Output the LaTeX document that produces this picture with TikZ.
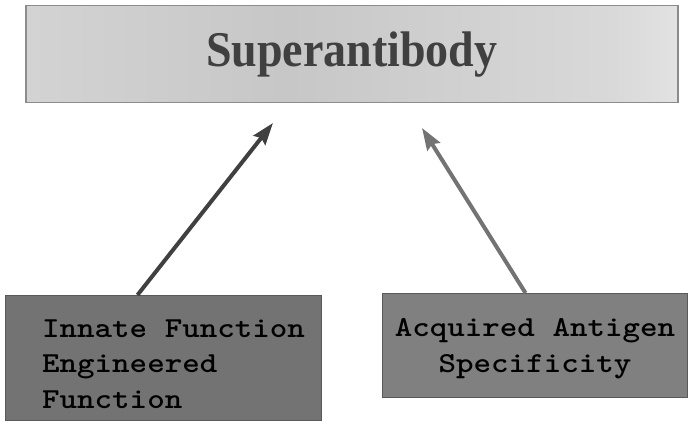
\documentclass[tikz,border=0pt]{standalone}
\usepackage{fontspec}
\setmainfont{Liberation Serif}
\newfontfamily\typefont[FakeStretch=1.15]{lmmonolt10-bold.otf}
\usetikzlibrary{arrows.meta}

\pgfdeclarehorizontalshading{silver}{100bp}{%
  color(0bp)=(black!24); color(20bp)=(black!16); color(45bp)=(black!22);
  color(70bp)=(black!15); color(85bp)=(black!4); color(100bp)=(black!22)}

\tikzset{
  titlebox/.style={draw=black!45, line width=1.5pt, shading=silver,
    minimum width=652pt, minimum height=97pt, anchor=north west,
    inner sep=0pt, text=black!75,
    font=\fontsize{50}{60}\selectfont\bfseries},
  darkbox/.style={draw=black!65, line width=1pt, fill=black!50,
    anchor=north west, inner sep=0pt},
  boxtext/.style={font=\typefont\fontsize{29}{35.5}\selectfont,
    inner sep=0pt},
  arrowline/.style={line width=4pt, -{Stealth[length=22pt,width=15pt,inset=3pt]}}
}

\begin{document}
\begin{tikzpicture}[x=1pt, y=-1pt]
  \useasboundingbox (0,0) rectangle (692,422);

  \node[titlebox] (super) at (25,5) {\scalebox{0.92}[1]{Superantibody}};

  \node[darkbox, fill=black!55, minimum width=316pt, minimum height=125pt]
    (innate) at (5,295) {};
  \node[boxtext, anchor=base west, align=left] (innatetext) at (42,408)
    {Innate Function\\Engineered\\Function};

  \node[darkbox, minimum width=305pt, minimum height=104pt]
    (acquired) at (382,293) {};
  \node[boxtext, anchor=base, align=center] (acquiredtext) at (535,372)
    {Acquired Antigen\\Specificity};

  % free arrow tips below the title box
  \coordinate (innatetip) at (273,123);
  \coordinate (acquiredtip) at (422,128);

  \draw[arrowline, black!75] ([xshift=-26pt]innate.north) -- (innatetip);
  \draw[arrowline, black!55] ([xshift=-9.5pt]acquired.north) -- (acquiredtip);
\end{tikzpicture}
\end{document}
